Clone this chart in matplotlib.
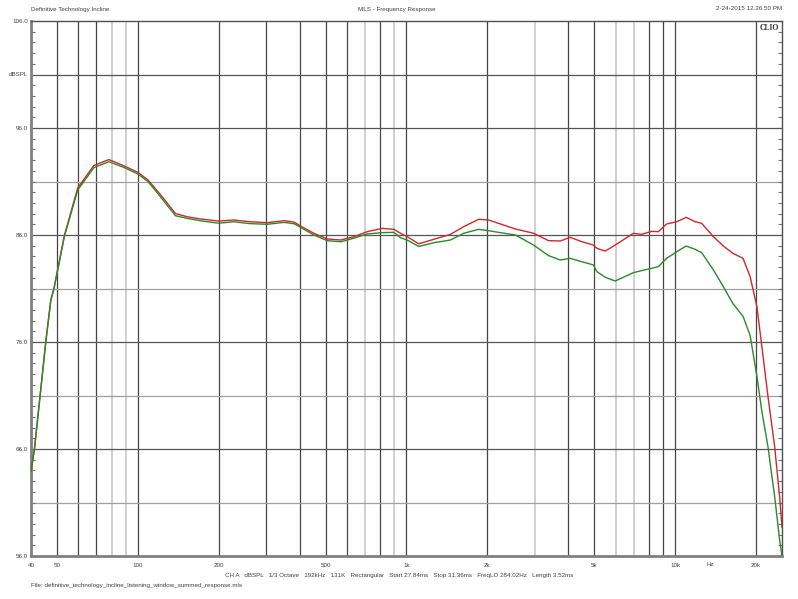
import numpy as np
import matplotlib
matplotlib.use('Agg')
import matplotlib.pyplot as plt

plt.rcParams['font.family'] = ['Liberation Sans', 'DejaVu Sans']

# frequency response (Hz, dBSPL)
freq = [40, 41.2, 43, 45.4, 47.4, 48.7, 53.3, 59.7, 68.6, 78, 89, 100, 109, 122,
        138, 153, 171, 200, 228, 259, 303, 350, 382, 403, 452, 507, 569, 637,
        714, 812, 897, 950, 1006, 1111, 1264, 1457, 1633, 1857, 2022, 2236,
        2545, 2973, 3381, 3737, 4068, 4498, 4966, 5116, 5494, 5985, 6990, 7500,
        8178, 8660, 9298, 10150, 10990, 11880, 12560, 13890, 15120, 16400,
        17900, 19030, 20160, 21040, 22170, 23480, 24500, 25000]
red_db = [63.9, 66.0, 70.4, 76.0, 79.9, 81.0, 86.0, 90.4, 92.5, 93.05, 92.45,
          91.85, 91.15, 89.7, 88.0, 87.7, 87.5, 87.3, 87.4, 87.25, 87.15, 87.34,
          87.2, 86.84, 86.16, 85.63, 85.53, 85.84, 86.31, 86.62, 86.53, 86.16,
          85.84, 85.17, 85.6, 86.06, 86.78, 87.47, 87.4, 87.03, 86.56, 86.16,
          85.47, 85.44, 85.78, 85.37, 85.06, 84.75, 84.5, 85.06, 86.16, 86.06,
          86.34, 86.31, 87.03, 87.24, 87.65, 87.24, 87.09, 85.84, 84.97, 84.29,
          83.82, 82.1, 79.3, 75.56, 70.9, 66.2, 61.5, 58.7]
green_db = [63.9, 66.0, 70.4, 76.0, 79.9, 81.0, 85.9, 90.2, 92.3, 92.85, 92.3,
            91.7, 91.0, 89.5, 87.8, 87.55, 87.33, 87.1, 87.24, 87.07, 87.0,
            87.18, 87.05, 86.72, 86.0, 85.47, 85.37, 85.7, 86.1, 86.22, 86.25,
            85.75, 85.53, 84.93, 85.28, 85.53, 86.16, 86.53, 86.4, 86.22, 86.0,
            85.06, 84.07, 83.66, 83.82, 83.5, 83.2, 82.57, 82.05, 81.7, 82.48,
            82.67, 82.89, 83.04, 83.82, 84.44, 84.97, 84.66, 84.35, 82.73,
            81.17, 79.6, 78.4, 76.6, 72.8, 69.5, 66.21, 61.54, 57.5, 56.0]

grid_dark = [50, 60, 70, 100, 200, 300, 400, 500, 600, 800, 1000, 2000, 4000,
             5000, 8000, 9000, 10000, 20000]
grid_light = [80, 90, 700, 900, 3000, 6000, 7000]
xtick_vals = [40, 50, 100, 200, 500, 1000, 2000, 5000, 10000, 20000]
xtick_labels = ['40', '50', '100', '200', '500', '1k', '2k', '5k', '10k', '20k']
ytick_vals = [56, 66, 76, 86, 96, 101, 106]
ytick_labels = ['56.0', '66.0', '76.0', '86.0', '96.0', 'dBSPL', '106.0']

fs = 4.5
tc = '#404040'

fig = plt.figure(figsize=(7.98, 5.99), dpi=100)
ax = fig.add_axes([31 / 798, 43 / 599, 751 / 798, 535 / 599])
ax.set_xscale('log')
ax.set_xlim(40, 25000)
ax.set_ylim(56, 106)

# grid
for f in grid_dark:
    ax.axvline(f, color='#444444', lw=0.9, zorder=1)
for f in grid_light:
    ax.axvline(f, color='#c4c4c4', lw=1.1, zorder=1)
for db in range(61, 106, 5):
    c = '#555555' if (db - 56) % 10 == 0 or db == 101 else '#a0a0a0'
    ax.axhline(db, color=c, lw=0.9, zorder=1)

ax.plot(freq, red_db, color='#d02828', lw=1.0, zorder=3)
ax.plot(freq, green_db, color='#2a8a2a', lw=1.0, zorder=4)

ax.set_xticks(xtick_vals, xtick_labels)
ax.xaxis.set_minor_locator(matplotlib.ticker.NullLocator())
ax.set_yticks(ytick_vals, ytick_labels)
ax.set_yticks(np.arange(56, 107, 1), minor=True)
ax.tick_params(axis='x', length=0, labelsize=fs, colors=tc, pad=5)
ax.tick_params(axis='y', which='major', length=0, labelsize=fs,
               colors=tc, pad=2)
ax.tick_params(axis='y', which='minor', direction='in', length=3,
               color='#707070', width=0.8, right=True)

for side in ['left', 'bottom']:
    ax.spines[side].set_color('#808080')
    ax.spines[side].set_linewidth(2)
for side in ['top', 'right']:
    ax.spines[side].set_color('#505050')
    ax.spines[side].set_linewidth(1)

ax.text(13500, 55.45, 'Hz', fontsize=fs, color=tc, ha='center', va='top')
ax.text(0.996, 0.994, 'CLIO', transform=ax.transAxes, fontsize=5.5,
        fontweight='bold', family='Liberation Serif', ha='right', va='top',
        color='#303030')

fig.text(31 / 798, 1 - 9 / 599, 'Definitive Technology Incline', fontsize=fs,
         color=tc, va='center')
fig.text(397 / 798, 1 - 9 / 599, 'MLS - Frequency Response', fontsize=fs,
         color=tc, va='center', ha='center')
fig.text(782 / 798, 1 - 9 / 599, '2-24-2015 12.36.50 PM', fontsize=fs,
         color=tc, va='center', ha='right')
fig.text(225 / 798, 1 - 576 / 599,
         'CH A   dBSPL   1/3 Octave   192kHz   131K   Rectangular   '
         'Start 27.84ms   Stop 31.36ms   FreqLO 284.02Hz   Length 3.52ms',
         fontsize=fs, color=tc, va='center')
fig.text(31 / 798, 1 - 585 / 599,
         'File: definitive_technology_incline_listening_window_summed_response.mls',
         fontsize=fs, color=tc, va='center')

fig.savefig('out.png', dpi=100)
